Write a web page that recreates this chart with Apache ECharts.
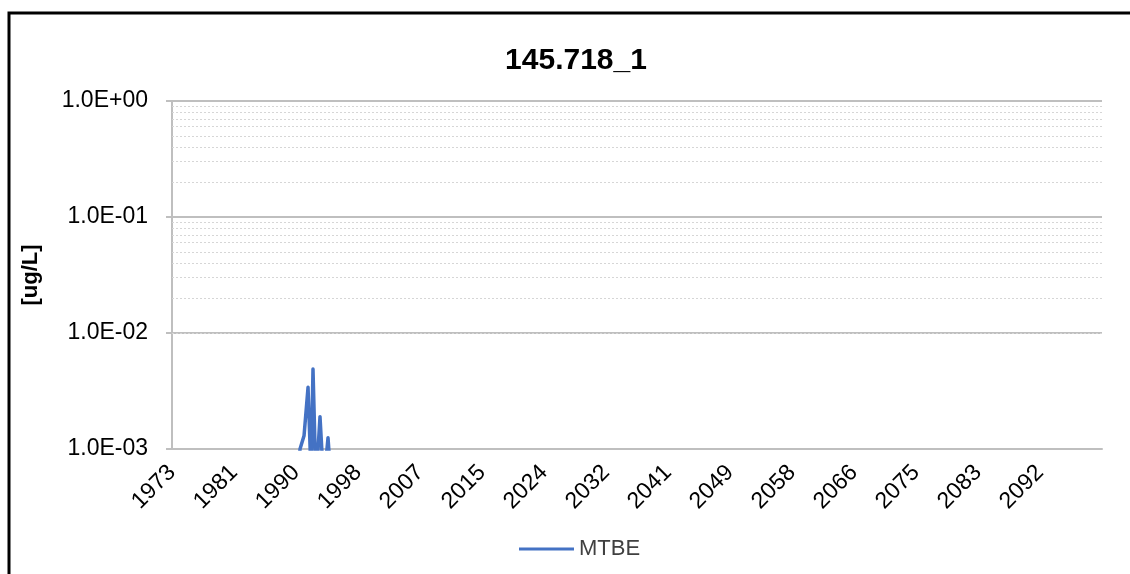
<!DOCTYPE html>
<html>
<head>
<meta charset="utf-8">
<script src="https://cdn.jsdelivr.net/npm/echarts@6/dist/echarts.min.js"></script>
<style>
html,body{margin:0;padding:0;background:#fff;}
#chart{width:1130px;height:574px;}
</style>
</head>
<body>
<div id="chart"></div>
<script>
var chartTitle = '145.718_1';
var seriesName = 'MTBE';
var yAxisName = '[ug/L]';
var years = [1990.0, 1990.55, 1991.1, 1991.65, 1992.06, 1992.33, 1992.74, 1993.29, 1993.8, 1994.39, 1994.94];
var mtbe = [0.0003, 0.001, 0.0013, 0.0034, 0.0006, 0.0049, 0.0005, 0.0019, 0.0005, 0.00125, 0.0004];
var xMin = 1973, xMax = 2100.5, xStep = 8.5;
var yMin = 0.001, yMax = 1;

var minorLines = [];
for (var d = yMin; d < yMax * 0.999; d *= 10) {
  for (var k = 2; k <= 9; k++) minorLines.push({ yAxis: +(d * k).toPrecision(3) });
}

function fmtExp(v) {
  var e = Math.round(Math.log10(v));
  var m = v / Math.pow(10, e);
  var s = e < 0 ? '-' : '+';
  var a = Math.abs(e);
  return m.toFixed(1) + 'E' + s + (a < 10 ? '0' + a : a);
}

var data = years.map(function (y, i) { return [y, mtbe[i]]; });
var font = '"Liberation Sans", Arial, sans-serif';

var chart = echarts.init(document.getElementById('chart'));
chart.setOption({
  animation: false,
  backgroundColor: '#fff',
  title: {
    text: chartTitle, left: 571, textAlign: 'center', top: 41,
    textStyle: { fontFamily: font, fontSize: 30, fontWeight: 'bold', color: '#000' }
  },
  grid: { left: 172, right: 28, top: 101, bottom: 125 },
  legend: {
    left: 514, top: 533, itemWidth: 55, itemHeight: 3, itemGap: 5,
    textStyle: { fontFamily: font, fontSize: 22, color: '#404040' },
    data: [{ name: seriesName, icon: 'rect' }]
  },
  xAxis: {
    type: 'value', min: xMin, max: xMax, interval: xStep,
    axisLine: { show: true, lineStyle: { color: '#bfbfbf', width: 2 } },
    axisTick: { show: false },
    splitLine: { show: false },
    axisLabel: {
      rotate: 45, fontFamily: font, fontSize: 23, color: '#000', margin: 20,
      showMaxLabel: false,
      formatter: function (v) { return String(Math.floor(v + 1e-6)); }
    }
  },
  yAxis: {
    type: 'log', logBase: 10, min: yMin, max: yMax,
    name: yAxisName, nameLocation: 'middle', nameRotate: 90, nameGap: 130,
    nameTextStyle: { fontFamily: font, fontSize: 22, fontWeight: 'bold', color: '#000' },
    axisLine: { show: true, lineStyle: { color: '#bfbfbf', width: 2 } },
    axisTick: { show: true, inside: false, length: 6, lineStyle: { color: '#bfbfbf', width: 2 } },
    splitLine: { show: true, lineStyle: { color: '#bfbfbf', width: 2 } },
    minorTick: { show: false },
    minorSplitLine: { show: false },
    axisLabel: {
      fontFamily: font, fontSize: 23, color: '#000', margin: 24,
      formatter: fmtExp
    }
  },
  series: [{
    name: seriesName, type: 'line', data: data,
    symbol: 'none', smooth: false, clip: true,
    lineStyle: { color: '#4472C4', width: 3.5, join: 'round', cap: 'round' },
    itemStyle: { color: '#4472C4' },
    markLine: {
      silent: true, symbol: 'none', animation: false,
      label: { show: false },
      lineStyle: { color: '#d6d6d6', width: 1, type: [2, 2] },
      data: minorLines
    },
    z: 3
  }],
  graphic: [{
    type: 'polyline', silent: true,
    shape: { points: [[9, 574], [9, 13], [1130, 13]] },
    style: { stroke: '#000', lineWidth: 3, fill: null }
  }]
});
</script>
</body>
</html>
